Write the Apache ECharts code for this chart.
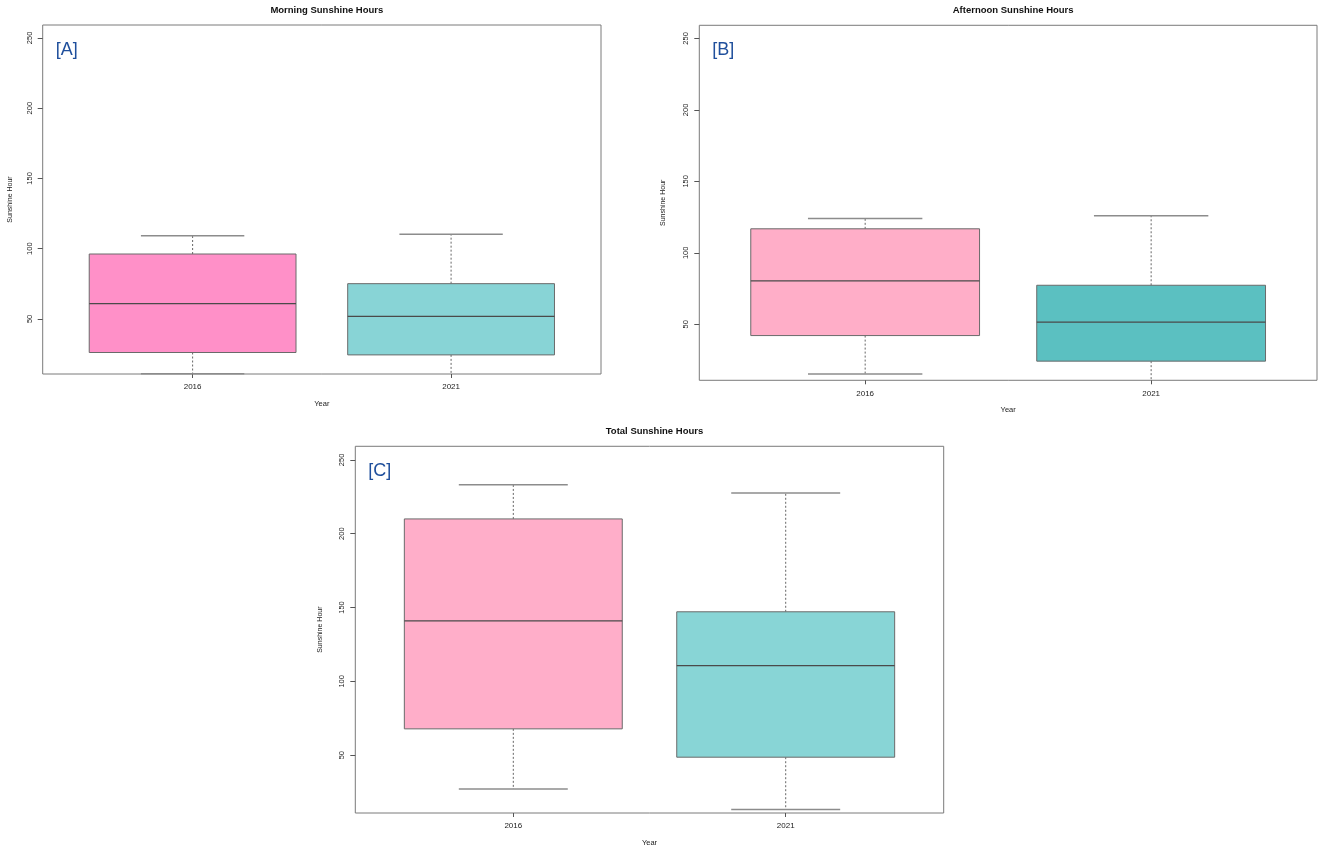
<!DOCTYPE html>
<html>
<head>
<meta charset="utf-8">
<script src="https://cdn.jsdelivr.net/npm/echarts@6/dist/echarts.min.js"></script>
<style>
  html, body { margin: 0; padding: 0; background: #fff; }
  #chart { width: 1325px; height: 855px; }
</style>
</head>
<body>
<div id="chart"></div>
<script>
// Years on the x axis, placed at positions 1 and 2 like R's boxplot
var years = ['2016', '2021'];
var yTicks = [50, 100, 150, 200, 250];

// Five-number summaries per year: [lower whisker, Q1, median, Q3, upper whisker]
var morning = [
  [11, 26.1, 60.9, 96.2, 109.2],
  [8, 24.4, 51.8, 75.1, 110.2]
];
var afternoon = [
  [15.2, 42.1, 80.4, 116.8, 124.1],
  [8, 24.2, 51.5, 77.3, 125.9]
];
var total = [
  [27, 67.8, 141, 210, 233.1],
  [13.2, 48.6, 110.6, 147.1, 227.6]
];

var morningColors = ['#ff90c8', '#88d4d6'];
var afternoonColors = ['#ffaec8', '#5bc0c1'];
var totalColors = ['#ffaec9', '#88d5d6'];

var FONT = '"Liberation Sans", Arial, sans-serif';

// one panel = grid + axes + custom boxplot series
var panels = [
  { title: 'Morning Sunshine Hours', tag: '[A]', data: morning, colors: morningColors,
    left: 42.7, top: 25, width: 558.3, height: 349, nameGap: 29 },
  { title: 'Afternoon Sunshine Hours', tag: '[B]', data: afternoon, colors: afternoonColors,
    left: 699.3, top: 25.3, width: 617.7, height: 355, nameGap: 32.5 },
  { title: 'Total Sunshine Hours', tag: '[C]', data: total, colors: totalColors,
    left: 355.3, top: 446.3, width: 588.4, height: 366.7, nameGap: 32 }
];

function renderBox(colors) {
  return function (params, api) {
    var pos = api.value(0);
    var lo = api.coord([pos, api.value(1)]);
    var q1 = api.coord([pos, api.value(2)]);
    var md = api.coord([pos, api.value(3)]);
    var q3 = api.coord([pos, api.value(4)]);
    var hi = api.coord([pos, api.value(5)]);
    var boxW = api.size([0.8, 0])[0];
    var capW = boxW / 2;
    var cx = md[0];
    var rect = params.coordSys;
    var bottom = rect.y + rect.height;
    var loY = Math.min(lo[1], bottom);
    var children = [
      { type: 'line', shape: { x1: cx, y1: q3[1], x2: cx, y2: hi[1] },
        style: { stroke: '#666', lineWidth: 1, lineDash: [2, 2] } },
      { type: 'line', shape: { x1: cx, y1: q1[1], x2: cx, y2: loY },
        style: { stroke: '#666', lineWidth: 1, lineDash: [2, 2] } },
      { type: 'line', shape: { x1: cx - capW / 2, y1: hi[1], x2: cx + capW / 2, y2: hi[1] },
        style: { stroke: '#8c8c8c', lineWidth: 1.5 } },
      { type: 'rect', shape: { x: cx - boxW / 2, y: q3[1], width: boxW, height: q1[1] - q3[1] },
        style: { fill: colors[params.dataIndex], stroke: '#6a6a6a', lineWidth: 1 } },
      { type: 'line', shape: { x1: cx - boxW / 2, y1: md[1], x2: cx + boxW / 2, y2: md[1] },
        style: { stroke: '#4a4a4a', lineWidth: 1.3 } }
    ];
    // whisker below the axis floor is cut at the frame, no cap drawn
    if (lo[1] <= bottom) {
      children.push({ type: 'line',
        shape: { x1: cx - capW / 2, y1: loY, x2: cx + capW / 2, y2: loY },
        style: { stroke: '#8c8c8c', lineWidth: 1.5 } });
    }
    return { type: 'group', children: children };
  };
}

var option = {
  animation: false,
  backgroundColor: '#fff',
  title: [], grid: [], xAxis: [], yAxis: [], series: []
};

panels.forEach(function (p, i) {
  option.title.push({
    text: p.title,
    left: p.left + p.width / 2, top: p.top - 25, textAlign: 'center',
    textStyle: { fontFamily: FONT, fontSize: 9.5, fontWeight: 'bold', color: '#111' }
  });
  option.title.push({
    text: p.tag,
    left: p.left + 8, top: p.top + 11,
    textStyle: { fontFamily: FONT, fontSize: 18, fontWeight: 'normal', color: '#1f4f9c' }
  });
  option.grid.push({
    left: p.left, top: p.top, width: p.width, height: p.height,
    show: true, borderColor: '#7a7a7a', borderWidth: 1, backgroundColor: '#fff'
  });
  option.xAxis.push({
    type: 'value', gridIndex: i, min: 0.42, max: 2.58,
    name: 'Year', nameLocation: 'middle', nameGap: 26,
    nameTextStyle: { fontFamily: FONT, fontSize: 7.5, color: '#222' },
    axisLine: { show: false },
    splitLine: { show: false },
    axisTick: { show: true, customValues: [1, 2], length: 4, lineStyle: { color: '#555' } },
    axisLabel: {
      customValues: [1, 2], margin: 9,
      fontFamily: FONT, fontSize: 8, color: '#222',
      formatter: function (v) { return years[Math.round(v) - 1]; }
    }
  });
  option.yAxis.push({
    type: 'value', gridIndex: i, min: 10.8, max: 259.2,
    name: 'Sunshine Hour', nameLocation: 'middle', nameRotate: 90, nameGap: p.nameGap,
    nameTextStyle: { fontFamily: FONT, fontSize: 7, color: '#222' },
    axisLine: { show: false },
    splitLine: { show: false },
    axisTick: { show: true, customValues: yTicks, length: 5, lineStyle: { color: '#555' } },
    axisLabel: {
      customValues: yTicks, rotate: 90, margin: 9,
      fontFamily: FONT, fontSize: 7.5, color: '#222'
    }
  });
  option.series.push({
    type: 'custom', xAxisIndex: i, yAxisIndex: i,
    renderItem: renderBox(p.colors),
    encode: { x: 0, y: [1, 2, 3, 4, 5] },
    data: p.data.map(function (d, k) { return [k + 1].concat(d); })
  });
});

var chart = echarts.init(document.getElementById('chart'), null, { renderer: 'canvas' });
chart.setOption(option);
</script>
</body>
</html>
